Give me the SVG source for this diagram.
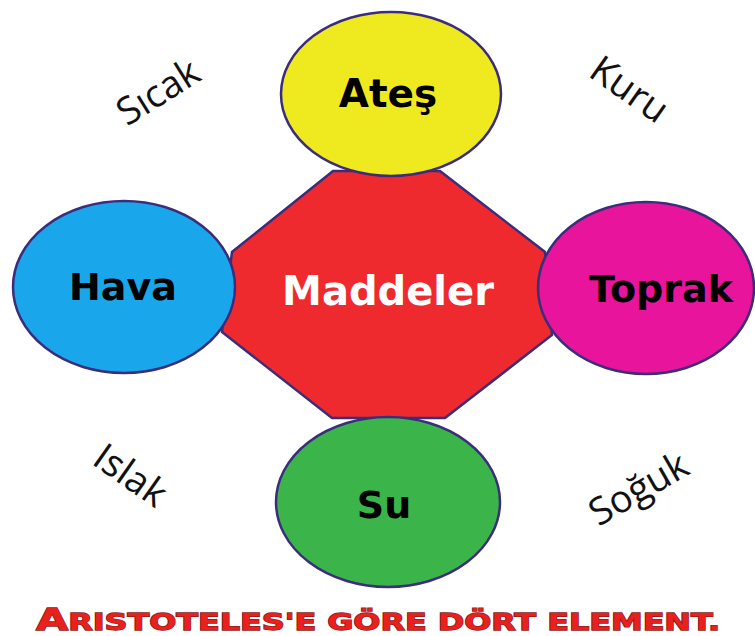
<svg xmlns="http://www.w3.org/2000/svg" width="755" height="636" viewBox="0 0 755 636">
<style>
.node{stroke:#3b2d7c;stroke-width:2.5}
.lbl{font-family:"DejaVu Sans",sans-serif;font-weight:bold;font-size:38px;fill:#000;text-anchor:middle}
.q{font-family:"Open Sans","Noto Sans",sans-serif;font-size:38px;fill:#111;text-anchor:middle}
.title{font-family:"DejaVu Sans",sans-serif;font-weight:bold;fill:#e8201e;stroke:#8c1a1a;stroke-width:1.3;paint-order:stroke}
</style>
<rect width="755" height="636" fill="#fff"/>
<g id="maddeler">
<polygon class="node" fill="#ee2a2e" points="333,171 440,171 545,252 552,335 445,418 332,418 222,332 232,252"/>
<text x="388" y="305" class="lbl" style="fill:#fff;font-size:40px">Maddeler</text>
</g>
<g id="ates">
<ellipse class="node" fill="#efe920" cx="391" cy="94" rx="110" ry="82"/>
<text x="388" y="107" class="lbl" style="font-size:39px">Ateş</text>
</g>
<g id="hava">
<ellipse class="node" fill="#1aa6ea" cx="124" cy="287" rx="111" ry="86"/>
<text x="123" y="300" class="lbl">Hava</text>
</g>
<g id="toprak">
<ellipse class="node" fill="#e8149b" cx="646" cy="288" rx="108" ry="86"/>
<text x="661" y="302" class="lbl">Toprak</text>
</g>
<g id="su">
<ellipse class="node" fill="#3bb54a" cx="388" cy="502" rx="112" ry="85"/>
<text x="384" y="518" class="lbl">Su</text>
</g>
<g id="connectors"></g>
<g id="qualities">
<text class="q" transform="translate(165,103) rotate(-32)">Sıcak</text>
<text class="q" transform="translate(622,100) rotate(35)">Kuru</text>
<text class="q" transform="translate(123,486) rotate(35)">Islak</text>
<text class="q" transform="translate(645,500) rotate(-30)">Soğuk</text>
</g>
<g id="title">
<text class="title" x="36" y="630" textLength="684" lengthAdjust="spacingAndGlyphs"><tspan font-size="30">A</tspan><tspan font-size="23">RISTOTELES'E GÖRE DÖRT ELEMENT.</tspan></text>
</g>
</svg>
